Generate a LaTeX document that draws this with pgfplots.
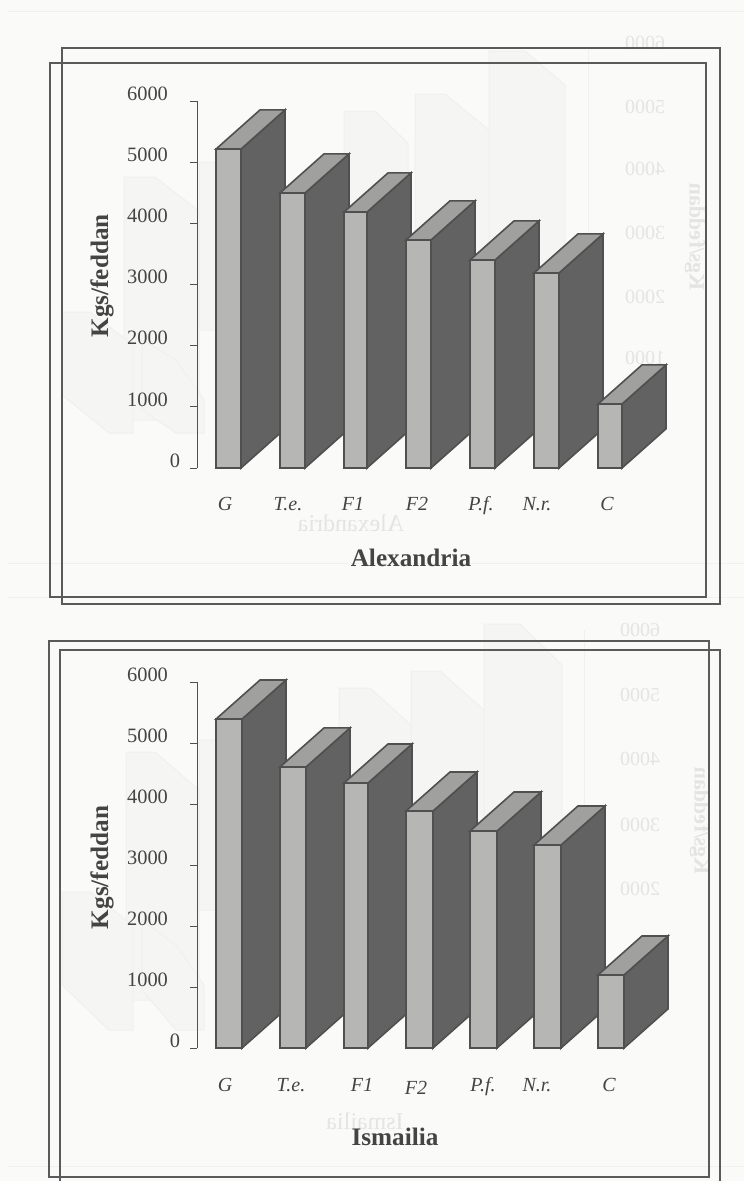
\documentclass[border=0pt]{standalone}
\usepackage{pgfplots}
\pgfplotsset{compat=1.18}
\usepackage{fontspec}
\setmainfont{Liberation Serif}

\definecolor{paper}{HTML}{FAFAF8}
\definecolor{framec}{HTML}{5A5A5A}
\definecolor{frontc}{HTML}{B6B6B4}
\definecolor{topc}{HTML}{A0A09E}
\definecolor{sidec}{HTML}{626262}
\definecolor{edgec}{HTML}{505050}
\definecolor{inkc}{HTML}{444444}
\definecolor{throughc}{HTML}{F5F5F3}
\definecolor{throughd}{HTML}{F0F0EE}
\definecolor{throught}{HTML}{E4E4E2}

% One prism: left edge, right edge, height. The depth is 44 units across and 640 kg up.
\newcommand{\prism}[3]{%
  \pgfmathsetmacro{\bx}{#2+44}%
  \pgfmathsetmacro{\lx}{#1+44}%
  \pgfmathsetmacro{\by}{#3+640}%
  \addplot[fill=sidec,draw=edgec,line width=.8pt,forget plot] coordinates {(#2,0)(\bx,640)(\bx,\by)(#2,#3)} --cycle;
  \addplot[fill=topc,draw=edgec,line width=.8pt,forget plot] coordinates {(#1,#3)(#2,#3)(\bx,\by)(\lx,\by)} --cycle;
  \addplot[fill=frontc,draw=edgec,line width=.8pt,forget plot] coordinates {(#1,0)(#2,0)(#2,#3)(#1,#3)} --cycle;
}

% Faint shape from the far side of the sheet, in page units.
\newcommand{\faint}[1]{\addplot[fill=throughc,draw=throughd,line width=.5pt,forget plot] coordinates {#1} --cycle;}

\pgfplotsset{
  prismaxis/.style={
    anchor=south west,
    x=0.5pt,y=0.030585pt,
    xmin=197,xmax=680,ymin=0,ymax=6000,
    clip=false,
    axis y line=left,axis x line=bottom,
    x axis line style={draw=none,-},
    y axis line style={draw=edgec,line width=.5pt,-},
    ytick={0,1000,...,6000},
    yticklabels={\makebox[0pt][l]{\hspace{1pt}0},1000,2000,3000,4000,5000,6000},
    /pgf/number format/assume math mode=true,
    tick align=outside,
    ytick style={draw=edgec,line width=.5pt},
    major tick length=3.5pt,
    xtick style={draw=none},
    xticklabel style={anchor=base,yshift=-17.5pt,font=\itshape\fontsize{10}{12}\selectfont,text=inkc},
    yticklabel style={yshift=3.7pt,xshift=-7.5pt,font=\fontsize{10.2}{12}\selectfont,text=inkc},
    every axis label/.append style={font=\bfseries\fontsize{12.6}{14}\selectfont,text=inkc},
  }
}

\begin{document}
\begin{tikzpicture}
\begin{scope}[x=0.5pt,y=-0.5pt]
  \path[use as bounding box] (0,0) rectangle (744,1181);
  \clip (0,0) rectangle (744,1181);
  \fill[paper] (0,0) rectangle (744,1181);
\end{scope}

% Printing that shows through from the other side of the sheet
\begin{axis}[anchor=south west,at={(0pt,-590.5pt)},x=0.5pt,y=0.5pt,
  xmin=0,xmax=744,ymin=0,ymax=1181,y dir=reverse,hide axis,clip=true]
  % upper chart
  \addplot[draw=throughd,line width=.5pt,forget plot] coordinates {(7,11)(744,11)};
  \addplot[draw=throughd,line width=.5pt,forget plot] coordinates {(7,563)(744,563)};
  \addplot[draw=throughd,line width=.5pt,forget plot] coordinates {(588,50)(588,400)};
  \faint{(489,51)(525,51)(565,85)(565,330)(489,330)}
  \faint{(415,94)(445,94)(489,130)(489,330)(415,330)}
  \faint{(344,111)(375,111)(408,143)(408,330)(344,330)}
  \faint{(199,162)(245,162)(285,195)(285,330)(199,330)}
  \faint{(124,177)(155,177)(199,211)(199,420)(124,420)}
  \faint{(62,312)(90,312)(133,345)(133,433)(109,433)(62,395)}
  \faint{(142,340)(176,360)(204,400)(204,433)(176,433)(142,410)}
  % lower chart
  \addplot[draw=throughd,line width=.5pt,forget plot] coordinates {(7,597)(744,597)};
  \addplot[draw=throughd,line width=.5pt,forget plot] coordinates {(7,1166)(744,1166)};
  \addplot[draw=throughd,line width=.5pt,forget plot] coordinates {(584,630)(584,960)};
  \faint{(484,624)(520,624)(562,665)(562,910)(484,910)}
  \faint{(411,671)(440,671)(484,710)(484,910)(411,910)}
  \faint{(339,688)(370,688)(411,725)(411,910)(339,910)}
  \faint{(199,740)(245,740)(285,775)(285,910)(199,910)}
  \faint{(126,752)(155,752)(199,790)(199,1000)(126,1000)}
  \faint{(62,892)(90,892)(133,925)(133,1030)(109,1030)(62,985)}
  \faint{(142,920)(176,945)(204,985)(204,1030)(176,1030)(142,990)}

  \node[xscale=-1,text=throught,font=\fontsize{10}{12}\selectfont] at (axis cs:645,43) {6000};
  \node[xscale=-1,text=throught,font=\fontsize{10}{12}\selectfont] at (axis cs:645,107) {5000};
  \node[xscale=-1,text=throught,font=\fontsize{10}{12}\selectfont] at (axis cs:645,169) {4000};
  \node[xscale=-1,text=throught,font=\fontsize{10}{12}\selectfont] at (axis cs:645,233) {3000};
  \node[xscale=-1,text=throught,font=\fontsize{10}{12}\selectfont] at (axis cs:645,297) {2000};
  \node[xscale=-1,text=throught,font=\fontsize{10}{12}\selectfont] at (axis cs:645,358) {1000};
  \node[xscale=-1,text=throught,rotate=90,font=\bfseries\fontsize{11}{12}\selectfont] at (axis cs:695,237) {Kgs/feddan};
  \node[xscale=-1,text=throught,font=\fontsize{12}{14}\selectfont] at (axis cs:351,523) {Alexandria};

  \node[xscale=-1,text=throught,font=\fontsize{10}{12}\selectfont] at (axis cs:640,630) {6000};
  \node[xscale=-1,text=throught,font=\fontsize{10}{12}\selectfont] at (axis cs:640,695) {5000};
  \node[xscale=-1,text=throught,font=\fontsize{10}{12}\selectfont] at (axis cs:640,759) {4000};
  \node[xscale=-1,text=throught,font=\fontsize{10}{12}\selectfont] at (axis cs:640,825) {3000};
  \node[xscale=-1,text=throught,font=\fontsize{10}{12}\selectfont] at (axis cs:640,889) {2000};
  \node[xscale=-1,text=throught,rotate=90,font=\bfseries\fontsize{11}{12}\selectfont] at (axis cs:700,821) {Kgs/feddan};
  \node[xscale=-1,text=throught,font=\fontsize{12}{14}\selectfont] at (axis cs:365,1121) {Ismailia};
\end{axis}

\begin{scope}[x=0.5pt,y=-0.5pt]
  \clip (0,0) rectangle (744,1181);
  \draw[framec,line width=1.1pt] (62,48) rectangle (720,604);
  \draw[framec,line width=1.1pt] (50,63) rectangle (706,597);
  \draw[framec,line width=1.1pt] (49,641) rectangle (709,1177);
  \draw[framec,line width=1.1pt] (60,650) rectangle (720,1190);
\end{scope}

% Alexandria
\begin{axis}[prismaxis,at={(98.5pt,-234pt)},
  xtick={225,288,353,417,481,537,607},
  xticklabels={G,T.e.,F1,F2,P.f.,N.r.,C},
  xlabel={Alexandria},ylabel={Kgs/feddan},
  xlabel style={at={(axis cs:411,-1470)},anchor=center},
  ylabel style={at={(axis cs:102,3140)},anchor=center}]
  \prism{216}{241}{5215}
  \prism{280}{305}{4496}
  \prism{344}{367}{4185}
  \prism{406}{431}{3728}
  \prism{470}{495}{3400}
  \prism{534}{559}{3188}
  \prism{598}{622}{1046}
\end{axis}

% Ismailia
\begin{axis}[prismaxis,y=0.0305pt,at={(98.5pt,-524pt)},
  xtick={225,291,362,416,483,537,609},
  xticklabels={G,T.e.,F1,\raisebox{-1.5pt}{F2},P.f.,N.r.,C},
  xticklabel style={yshift=-.5pt},
  xlabel={Ismailia},ylabel={Kgs/feddan},
  xlabel style={at={(axis cs:395,-1460)},anchor=center},
  ylabel style={at={(axis cs:102,2960)},anchor=center}]
  \prism{216}{242}{5393}
  \prism{280}{306}{4607}
  \prism{344}{368}{4344}
  \prism{406}{433}{3885}
  \prism{470}{497}{3557}
  \prism{534}{561}{3328}
  \prism{598}{624}{1197}
\end{axis}
\end{tikzpicture}
\end{document}
